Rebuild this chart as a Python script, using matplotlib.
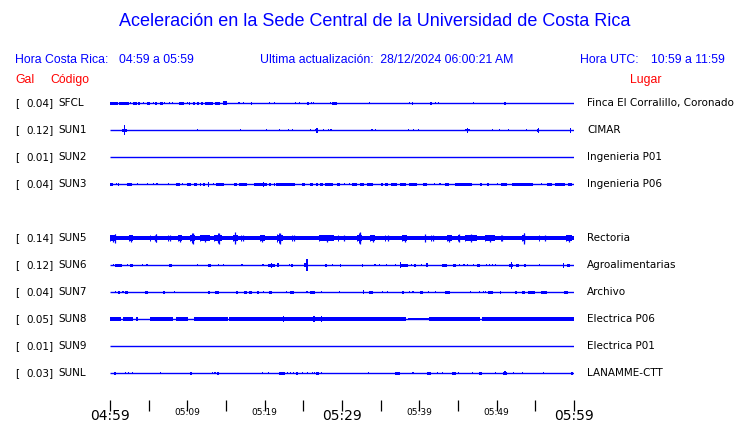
import matplotlib
matplotlib.use("Agg")
import matplotlib.pyplot as plt

# ---------------- data ----------------
title = "Aceleración en la Sede Central de la Universidad de Costa Rica"
hora_cr = "04:59 a 05:59"
hora_utc = "10:59 a 11:59"
ultima = "28/12/2024 06:00:21 AM"

codes = ["SFCL", "SUN1", "SUN2", "SUN3", None, "SUN5", "SUN6", "SUN7", "SUN8", "SUN9", "SUNL"]
gal = [0.04, 0.12, 0.01, 0.04, None, 0.14, 0.12, 0.04, 0.05, 0.01, 0.03]
lugar = ["Finca El Corralillo, Coronado", "CIMAR", "Ingenieria P01", "Ingenieria P06", None,
         "Rectoria", "Agroalimentarias", "Archivo", "Electrica P06", "Electrica P01", "LANAMME-CTT"]

tick_minutes = list(range(0, 61, 5))
label_minutes = [0, 10, 20, 30, 40, 50, 60]
label_text = ["04:59", "05:09", "05:19", "05:29", "05:39", "05:49", "05:59"]
label_big = [True, False, False, True, False, False, True]

# continuous noise band per station: list of (start_min, end_min, half_amp_px)
band_SUN5 = [(0.0, 60.0, 2.0)]
band_SUN8 = [(0.0, 1.4, 1.6), (1.7, 3.0, 1.6), (3.3, 3.6, 1.6), (5.2, 8.2, 1.6), (8.5, 10.1, 1.6),
             (10.9, 15.2, 1.6), (15.4, 38.3, 1.6), (38.5, 41.2, 1.4), (41.3, 47.8, 1.6), (48.1, 60.0, 1.6)]

# bursts per station: (start_min, end_min, half_amp_px)
ev_SFCL = [(0.0, 1.0, 1.5), (1.2, 2.4, 1.5), (2.6, 2.6, 1.0), (3.0, 3.5, 1.5), (3.6, 3.9, 1.5), (4.3, 4.3, 1.0),
           (4.8, 5.2, 1.5), (5.5, 5.5, 1.0), (5.8, 6.1, 1.5), (6.5, 6.9, 1.5), (7.0, 7.0, 1.0), (7.6, 7.6, 1.0),
           (8.0, 8.0, 1.0), (8.9, 9.6, 1.5), (9.9, 9.9, 1.0), (10.2, 10.4, 1.5), (10.7, 11.0, 1.5),
           (11.2, 11.5, 1.5), (11.8, 12.0, 1.5), (12.3, 13.3, 1.5), (13.6, 14.2, 1.5), (14.6, 15.1, 2.3),
           (16.6, 16.6, 1.0), (17.2, 17.2, 1.0), (18.2, 18.4, 1.5), (20.6, 20.6, 1.0), (21.2, 21.2, 1.0),
           (23.9, 23.9, 1.0), (24.4, 24.4, 1.0), (25.5, 25.7, 1.5), (26.0, 26.0, 1.0), (26.2, 26.2, 1.0),
           (28.4, 28.4, 1.0), (28.7, 29.4, 1.5), (33.5, 33.5, 1.0), (38.7, 38.8, 1.2), (39.0, 39.2, 1.5),
           (41.4, 41.6, 1.5), (42.0, 42.0, 1.0), (42.4, 42.4, 1.0), (46.9, 46.9, 1.0), (51.0, 51.2, 1.5)]
ev_SUN1 = [(1.6, 2.2, 1.5), (1.85, 1.85, 5.3), (11.2, 11.2, 1.0), (16.8, 16.8, 1.0), (20.2, 20.2, 1.0),
           (21.8, 21.8, 1.0), (23.0, 23.2, 1.3), (23.5, 23.5, 1.0), (25.8, 25.8, 0.8), (26.5, 26.9, 1.4),
           (26.7, 26.7, 2.5), (27.5, 27.5, 1.0), (28.2, 28.2, 1.0), (28.5, 28.5, 1.0), (33.8, 33.8, 1.0),
           (34.3, 34.3, 0.8), (38.5, 38.5, 1.0), (39.2, 39.2, 0.8), (39.8, 39.8, 1.0), (45.9, 46.5, 1.3),
           (46.2, 46.2, 2.5), (49.4, 49.4, 0.8), (50.3, 50.3, 0.8), (51.5, 51.5, 0.8), (53.8, 53.8, 1.0),
           (55.2, 55.4, 1.5), (55.3, 55.3, 2.5), (59.5, 59.5, 2.5)]
ev_SUN2 = []
ev_SUN3 = [(0.0, 0.4, 1.5), (0.8, 0.8, 1.0), (1.0, 1.2, 1.5), (2.2, 2.8, 1.5), (3.5, 3.5, 1.0),
           (4.8, 4.8, 1.0), (5.6, 5.6, 1.0), (6.0, 6.0, 1.0), (7.5, 7.5, 1.0), (8.5, 9.0, 1.5),
           (9.3, 9.3, 1.0), (9.9, 10.5, 1.5), (10.8, 11.2, 1.5), (11.6, 11.8, 1.5), (12.0, 12.3, 1.5),
           (12.7, 12.7, 2.5), (13.3, 13.3, 1.0), (13.7, 14.7, 1.5), (16.0, 16.4, 1.5), (16.7, 17.7, 1.5),
           (18.6, 19.1, 1.5), (19.2, 20.3, 1.5), (19.8, 19.8, 2.5), (20.5, 20.8, 1.5), (21.2, 21.3, 1.5),
           (21.5, 23.9, 1.5), (24.8, 25.2, 1.5), (25.8, 26.2, 1.5), (26.6, 26.9, 1.5), (27.2, 27.5, 1.5),
           (27.8, 28.9, 1.5), (29.3, 29.7, 1.5), (30.3, 30.3, 1.0), (30.9, 30.9, 1.0), (31.3, 32.0, 1.5),
           (32.3, 32.9, 1.5), (33.2, 34.0, 1.5), (35.0, 35.3, 1.5), (35.6, 36.0, 1.5), (36.4, 37.1, 1.5),
           (37.5, 38.3, 1.5), (38.6, 39.7, 1.5), (40.5, 41.0, 1.5), (41.9, 41.9, 1.0), (42.6, 42.6, 1.0),
           (43.3, 43.8, 1.5), (44.6, 46.8, 1.5), (47.8, 48.1, 1.5), (48.8, 49.0, 1.5), (50.0, 50.0, 1.0),
           (50.6, 51.3, 1.5), (52.0, 54.7, 1.5), (55.7, 55.7, 1.0), (56.5, 57.2, 1.5), (57.6, 58.8, 1.5),
           (59.2, 59.8, 1.5)]
ev_SUN5 = [(0.0, 0.8, 3.5), (0.6, 0.7, 4.5), (2.4, 3.0, 3.5), (5.2, 6.5, 3.2), (5.9, 6.0, 4.3),
           (7.5, 8.0, 3.2), (8.8, 9.3, 3.5), (10.3, 11.0, 4.0), (10.6, 10.7, 5.5), (11.6, 12.9, 3.5),
           (13.5, 14.5, 3.5), (14.0, 14.1, 5.5), (15.9, 16.5, 3.5), (16.1, 16.2, 6.0), (17.0, 17.5, 3.3),
           (19.4, 20.0, 3.5), (21.6, 22.4, 4.3), (21.9, 22.1, 5.5), (23.5, 24.0, 3.0), (27.0, 29.0, 3.5),
           (29.5, 31.0, 3.2), (32.0, 32.6, 4.0), (32.2, 32.3, 5.8), (33.6, 34.3, 3.5), (35.5, 36.5, 3.0),
           (37.8, 38.4, 3.5), (40.7, 40.8, 4.0), (41.5, 42.0, 3.0), (43.6, 44.2, 3.5), (45.0, 45.1, 4.0),
           (45.9, 47.5, 4.0), (48.5, 49.8, 3.5), (50.5, 51.0, 3.3), (53.3, 53.7, 4.0), (53.5, 53.6, 5.5),
           (55.5, 57.0, 3.0), (59.0, 59.8, 3.5)]
ev_SUN6 = [(0.4, 0.4, 1.0), (0.7, 1.1, 1.5), (1.2, 1.6, 1.5), (2.2, 2.2, 1.0), (2.6, 3.0, 1.5),
           (4.1, 4.1, 1.0), (4.7, 4.7, 1.0), (7.6, 8.0, 1.5), (11.2, 11.2, 1.0), (12.7, 13.0, 1.5),
           (14.0, 14.0, 1.0), (14.6, 14.6, 1.0), (17.0, 17.0, 1.0), (19.7, 19.7, 0.8), (20.4, 21.3, 1.5),
           (20.8, 20.8, 2.5), (21.6, 21.8, 2.3), (23.1, 23.1, 1.0), (23.4, 23.6, 1.5), (25.1, 25.6, 2.0),
           (25.4, 25.4, 6.0), (27.8, 28.1, 1.5), (28.7, 28.7, 0.8), (29.7, 29.9, 1.5), (32.6, 32.6, 1.5),
           (34.2, 34.2, 1.0), (34.8, 34.8, 1.0), (35.7, 35.7, 1.0), (36.8, 36.8, 1.0), (37.5, 37.5, 3.0),
           (37.6, 38.5, 1.5), (38.9, 38.9, 1.0), (39.3, 39.6, 1.5), (40.2, 40.2, 1.0), (40.9, 41.1, 2.0),
           (42.9, 43.6, 1.5), (44.4, 44.7, 1.5), (45.1, 45.1, 1.0), (45.7, 45.7, 1.0), (46.2, 46.2, 1.0),
           (46.9, 46.9, 1.0), (47.4, 47.8, 1.5), (48.6, 48.6, 1.0), (49.0, 49.0, 1.0), (49.4, 49.4, 1.0),
           (49.8, 49.8, 1.0), (51.6, 52.1, 1.5), (51.8, 51.8, 3.5), (52.5, 52.9, 1.5), (53.5, 53.8, 1.5),
           (55.5, 55.5, 1.0), (58.6, 58.6, 2.5), (59.1, 59.5, 1.5)]
ev_SUN7 = [(0.6, 0.6, 1.0), (1.0, 1.3, 1.5), (1.6, 1.6, 1.0), (1.9, 2.3, 1.5), (4.5, 4.9, 1.5),
           (6.9, 7.1, 1.5), (8.3, 8.3, 1.0), (12.7, 12.9, 1.5), (13.6, 14.1, 1.5), (16.3, 16.6, 1.5),
           (17.3, 17.7, 1.5), (18.0, 18.3, 1.5), (19.0, 19.3, 1.5), (19.8, 19.8, 1.0), (20.5, 21.0, 1.5),
           (22.8, 22.8, 0.8), (23.3, 23.8, 1.5), (25.4, 25.4, 1.0), (25.9, 26.5, 1.5), (27.3, 27.3, 0.8),
           (29.6, 29.6, 0.8), (32.7, 32.7, 2.0), (33.5, 34.0, 1.5), (35.2, 35.2, 1.0), (35.8, 35.8, 1.0),
           (37.7, 38.0, 1.5), (38.7, 38.7, 1.0), (39.1, 39.1, 1.0), (40.1, 40.5, 1.5), (41.1, 41.1, 1.0),
           (42.0, 42.0, 1.0), (43.3, 44.0, 1.5), (46.5, 46.5, 1.0), (47.7, 47.7, 0.8), (48.2, 48.2, 0.8),
           (48.5, 48.5, 1.0), (48.9, 49.5, 1.5), (50.4, 50.6, 1.5), (52.4, 52.6, 1.5), (53.3, 53.7, 1.5),
           (54.1, 54.9, 1.5), (55.7, 56.5, 1.5), (58.7, 59.2, 1.5)]
ev_SUN8 = [(20.6, 20.6, 2.3), (22.4, 22.4, 2.7), (26.3, 26.3, 2.7), (27.3, 27.3, 2.7), (32.2, 32.6, 2.2),
           (45.3, 45.3, 1.8), (52.8, 52.8, 2.0), (53.8, 53.8, 1.8)]
ev_SUN9 = []
ev_SUNL = [(0.5, 0.8, 1.5), (1.9, 1.9, 1.0), (2.3, 2.5, 1.3), (2.8, 2.8, 1.0), (6.5, 6.5, 0.8),
           (10.3, 10.6, 1.5), (13.2, 13.2, 1.0), (13.5, 13.5, 1.0), (13.9, 14.1, 1.5), (19.6, 19.6, 1.0),
           (20.4, 20.4, 1.0), (21.9, 22.6, 1.5), (22.9, 22.9, 1.0), (23.3, 23.3, 1.0), (23.7, 23.7, 1.0),
           (24.0, 24.3, 1.5), (24.8, 24.8, 1.0), (25.5, 25.5, 1.0), (26.1, 26.1, 1.0), (26.4, 26.4, 1.0),
           (26.6, 27.0, 1.5), (27.3, 27.3, 1.0), (33.4, 33.4, 1.0), (36.9, 37.5, 1.5), (39.1, 39.1, 1.0),
           (41.0, 41.5, 1.5), (42.3, 42.3, 1.0), (42.9, 42.9, 1.0), (44.2, 44.8, 1.5), (45.0, 45.0, 1.0),
           (46.8, 46.8, 0.8), (47.7, 48.1, 1.5), (49.8, 49.8, 1.0), (50.8, 51.3, 1.5), (51.0, 51.0, 2.0),
           (52.1, 52.1, 0.8), (53.3, 53.3, 1.0), (56.0, 56.0, 1.0), (59.6, 59.9, 1.5)]

events = {"SFCL": ev_SFCL, "SUN1": ev_SUN1, "SUN2": ev_SUN2, "SUN3": ev_SUN3, "SUN5": ev_SUN5,
          "SUN6": ev_SUN6, "SUN7": ev_SUN7, "SUN8": ev_SUN8, "SUN9": ev_SUN9, "SUNL": ev_SUNL}
bands = {"SUN5": band_SUN5, "SUN8": band_SUN8}
spike_codes = {"SUN5"}

# ---------------- figure ----------------
W, H = 740, 423
fig = plt.figure(figsize=(W / 100, H / 100), dpi=100)
fig.patch.set_facecolor("white")

BLUE = "#0000ff"
RED = "#ff0000"

# axes covering the trace area: x 110..574 px, y 90..400 px (from top)
ax_left, ax_right, ax_top, ax_bot = 110, 574, 90, 400
ax = fig.add_axes([ax_left / W, 1 - ax_bot / H, (ax_right - ax_left) / W, (ax_bot - ax_top) / H])
ax.set_xlim(0, 60)
ax.set_ylim(ax_bot, ax_top)  # y in pixels from top
for s in ax.spines.values():
    s.set_visible(False)
ax.set_yticks([])

row0, row_step = 103, 27
min_w = 0.15

def fig_y(py):
    return 1 - py / H

lab = dict(fontsize=7.5, color="black", va="center")
for i, code in enumerate(codes):
    if code is None:
        continue
    yc = row0 + row_step * i
    # baseline
    ax.plot([0, 60], [yc, yc], color=BLUE, lw=1.0, solid_capstyle="butt")
    for (m0, m1, a) in bands.get(code, []):
        ax.fill_between([m0, m1], [yc - a] * 2, [yc + a] * 2, color=BLUE, lw=0)
    ev = events[code]
    if not ev:
        pass
    elif code in spike_codes:
        # burst body (lower) plus a thin peak spike at its centre
        xs = [e[0] for e in ev]
        ws = [max(e[1] - e[0], min_w) for e in ev]
        body = [0.72 * e[2] for e in ev]
        ax.bar(xs, [2 * b for b in body], width=ws, bottom=[yc - b for b in body],
               align="edge", color=BLUE, lw=0)
        ax.vlines([e[0] + w / 2 for e, w in zip(ev, ws)], [yc - e[2] for e in ev],
                  [yc + e[2] for e in ev], color=BLUE, lw=0.9)
        ax.vlines([e[0] for e in ev], [yc - 0.85 * e[2] for e in ev],
                  [yc + 0.85 * e[2] for e in ev], color=BLUE, lw=0.7)
    else:
        xs = [e[0] for e in ev]
        ws = [max(e[1] - e[0], min_w) for e in ev]
        hs = [2 * e[2] for e in ev]
        bs = [yc - e[2] for e in ev]
        ax.bar(xs, hs, width=ws, bottom=bs, align="edge", color=BLUE, lw=0)
    # left / right labels
    fig.text(15 / W, fig_y(yc), "[", ha="left", **lab)
    fig.text(53.5 / W, fig_y(yc), f"{gal[i]:.2f}]", ha="right", **lab)
    fig.text(58 / W, fig_y(yc), code, ha="left", **lab)
    fig.text(587 / W, fig_y(yc), lugar[i], ha="left", **lab)

# time axis
ax.set_xticks(tick_minutes)
ax.set_xticklabels([""] * len(tick_minutes))
ax.tick_params(axis="x", direction="out", length=8, width=0.9, color="black", pad=0)
for m, t, big in zip(label_minutes, label_text, label_big):
    ax.text(m, ax_bot + (15.5 if big else 12), t, ha="center", va="center",
            fontsize=10 if big else 6.5, color="black")

# header texts
fig.text(375 / W, fig_y(22), title, fontsize=13, color=BLUE, ha="center", va="center",
         family="Liberation Sans")
hdr = dict(fontsize=8.8, color=BLUE, va="center", family="Liberation Sans")
fig.text(15 / W, fig_y(60), "Hora Costa Rica:", ha="left", **hdr)
fig.text(119 / W, fig_y(60), hora_cr, ha="left", **hdr)
fig.text(260 / W, fig_y(60), "Ultima actualización:  " + ultima, ha="left", **hdr)
fig.text(580 / W, fig_y(60), "Hora UTC:", ha="left", **hdr)
fig.text(651 / W, fig_y(60), hora_utc, ha="left", **hdr)
red = dict(fontsize=8.8, color=RED, va="center", family="Liberation Sans")
fig.text(15 / W, fig_y(80), "Gal", ha="left", **red)
fig.text(50 / W, fig_y(80), "Código", ha="left", **red)
fig.text(630 / W, fig_y(80), "Lugar", ha="left", **red)

fig.savefig("out.png", dpi=100, facecolor="white")
